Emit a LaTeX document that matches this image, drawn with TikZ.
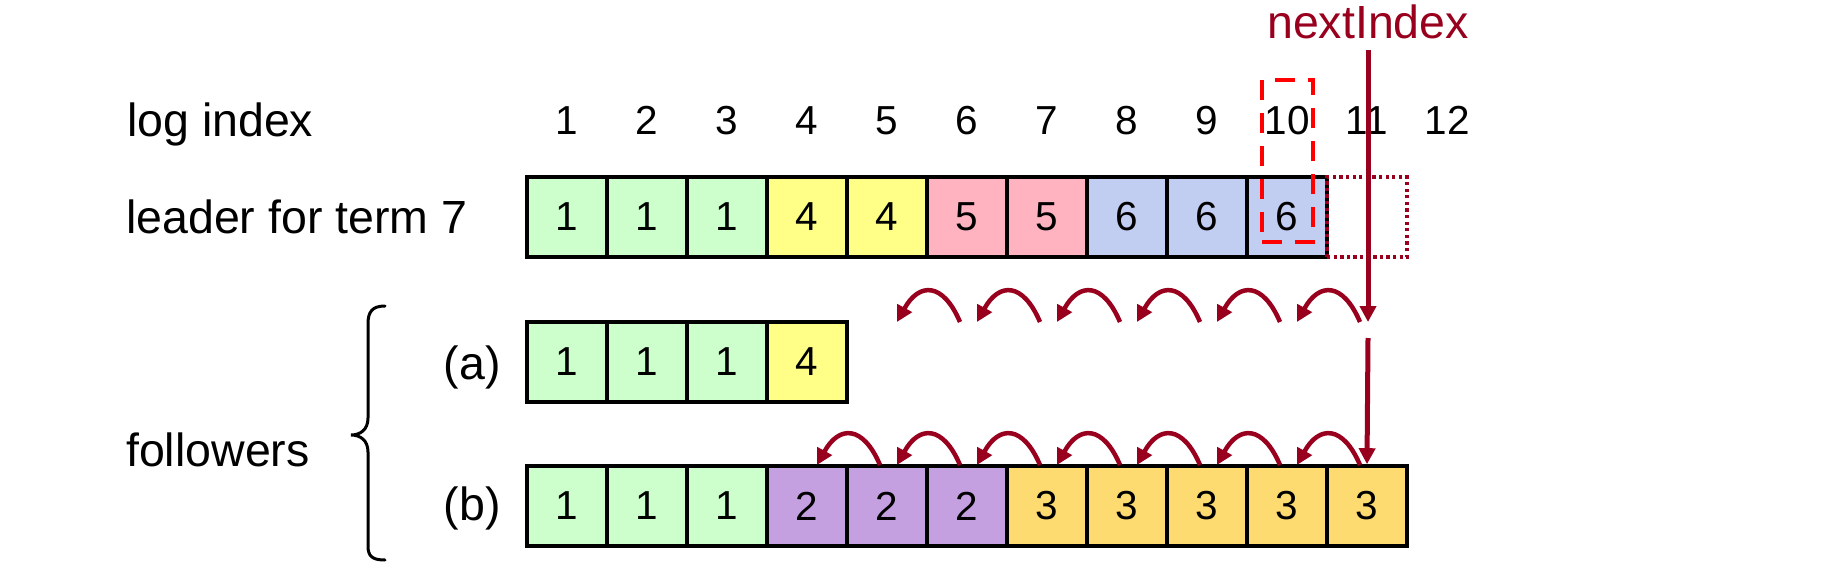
\documentclass[tikz,border=0pt]{standalone}
\usepackage{fontspec}
\setmainfont{Liberation Sans}
\usetikzlibrary{arrows.meta}
\definecolor{cgreen}{RGB}{204,255,204}
\definecolor{cyellow}{RGB}{255,255,136}
\definecolor{cpink}{RGB}{255,179,193}
\definecolor{cblue}{RGB}{193,206,241}
\definecolor{cpurple}{RGB}{197,160,224}
\definecolor{cgold}{RGB}{253,219,112}
\definecolor{dred}{RGB}{152,0,30}
\newcommand\mylabfont{\fontsize{46.5pt}{52pt}\selectfont}
\newcommand\mydigitfont{\fontsize{40.5pt}{46pt}\selectfont}
\begin{document}
\begin{tikzpicture}[x=1pt,y=-1pt,
  cell/.style={draw=black, line width=3.6pt, minimum width=80pt, minimum height=80pt, inner sep=0pt, font=\mydigitfont},
  lab/.style={font=\mylabfont, inner sep=0pt},
  idx/.style={font=\mydigitfont, inner sep=0pt, anchor=base},
  arcarrow/.style={draw=dred, line width=4.5pt, -{Triangle[length=16pt,width=16pt]}},
  vline/.style={draw=dred, line width=5pt, -{Triangle[length=16pt,width=16pt]}},
  brace/.style={draw=black, line width=3pt, line cap=round}
]
\useasboundingbox (0,0) rectangle (1830,562);

% labels
\node[lab, anchor=base west] (loglab) at (127,136) {log index};
\node[lab, anchor=base west] (leadlab) at (126,233) {leader for term 7};
\node[lab, anchor=base west] (follab) at (126,466) {followers};
\node[lab, anchor=base east] (alab) at (501,379) {(a)};
\node[lab, anchor=base east] (blab) at (501,520) {(b)};

% leader row
\foreach \i/\t/\c in {1/1/cgreen,2/1/cgreen,3/1/cgreen,4/4/cyellow,5/4/cyellow,6/5/cpink,7/5/cpink,8/6/cblue,9/6/cblue,10/6/cblue}
  \node[cell, fill=\c] (L\i) at ({487+80*\i},217) {\t};
\node[draw=dred, line width=3.3pt, dash pattern=on 3.3pt off 3.3pt, minimum width=80pt, minimum height=80pt, inner sep=0pt] (L11) at (1367,217) {};

% follower (a)
\foreach \i/\t/\c in {1/1/cgreen,2/1/cgreen,3/1/cgreen,4/4/cyellow}
  \node[cell, fill=\c] (A\i) at ({487+80*\i},362) {\t};

% follower (b)
\foreach \i/\t/\c in {1/1/cgreen,2/1/cgreen,3/1/cgreen,4/2/cpurple,5/2/cpurple,6/2/cpurple,7/3/cgold,8/3/cgold,9/3/cgold,10/3/cgold,11/3/cgold}
  \node[cell, fill=\c] (B\i) at ({487+80*\i},506) {\t};

% index numbers
\foreach \i in {1,...,12}
  \node[idx] (I\i) at ({487+80*\i},134) {\i};

% highlight box
\node[draw=red, line width=4.5pt, dash pattern=on 20pt off 13pt, minimum width=51pt, minimum height=162pt, inner sep=0pt] (hl) at (1287.5,161) {};

% nextIndex
\node[lab, text=dred, anchor=base] (ni) at (1368,38) {nextIndex};
\coordinate (v1) at (1368,50);
\coordinate (v2) at (1368,322);
\coordinate (v3) at (1368,338);
\draw[vline] (v1) -- (v2);
\draw[vline] (v3) -- (B11.north);

% backtracking arcs, top
\foreach \k in {6,...,11}{
  \coordinate (ts\k) at ({480+80*\k},322);
  \coordinate (tt\k) at ({417+80*\k},322);
  \draw[arcarrow] (ts\k) .. controls +(-17,-40) and +(22,-40) .. (tt\k);
}
% backtracking arcs, bottom
\foreach \k in {5,...,11}{
  \coordinate (bs\k) at ({480+80*\k},465);
  \coordinate (bt\k) at ({417+80*\k},465);
  \draw[arcarrow] (bs\k) .. controls +(-17,-40) and +(22,-40) .. (bt\k);
}

% brace
\draw[brace] (385,306) .. controls (372,306) and (368,312) .. (368,324) -- (368,418)
  .. controls (368,430) and (360,435) .. (351,435)
  .. controls (360,435) and (368,440) .. (368,452) -- (368,546)
  .. controls (368,556) and (372,560) .. (385,560);
\end{tikzpicture}
\end{document}
